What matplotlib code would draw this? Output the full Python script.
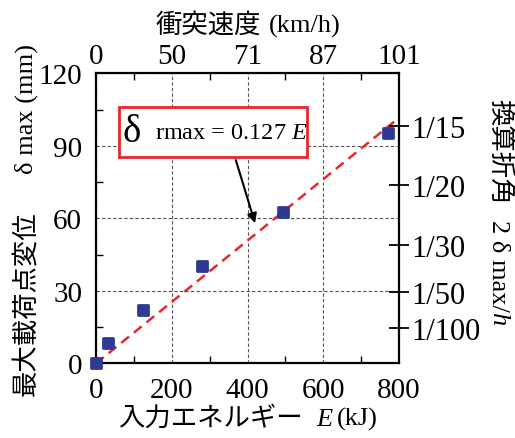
import numpy as np
import matplotlib
matplotlib.use('Agg')
import matplotlib.pyplot as plt
from matplotlib.patches import Rectangle

plt.rcParams['font.family'] = ['Liberation Serif', 'Noto Sans CJK JP']
plt.rcParams['mathtext.fontset'] = 'custom'
plt.rcParams['mathtext.rm'] = 'Liberation Serif'
plt.rcParams['mathtext.it'] = 'Liberation Serif:italic'

# data
energy_kj = [0, 32, 123, 279, 494, 772]
disp_mm = [0, 8.6, 21.9, 40.4, 62.5, 95.3]
fit_coef = 0.127
fit_range = [0, 790]

speed_ticks = [0, 200, 400, 600, 800]
speed_labels = ['0', '50', '71', '87', '101']

angle_denoms = [15, 20, 30, 50, 100]
pier_h_mm = 2950

W, H = 515, 439
fig = plt.figure(figsize=(W / 100, H / 100), dpi=100)
ax = fig.add_axes([0.1864, 0.170, 0.5884, 0.6608])

CJK = dict(family='Noto Sans CJK JP', fontsize=19)
SER = dict(family='Liberation Serif', fontsize=19)
SER_I = dict(family='Liberation Serif', fontsize=19, fontstyle='italic')


def label_run(pieces, cx, by, rotation=0):
    # pieces: (text, props) or a number = gap in px; cx = centre along the run,
    # by = baseline position across it (pixels from top-left)
    r = fig.canvas.get_renderer()
    lens = []
    for p in pieces:
        if isinstance(p, (int, float)):
            lens.append(p)
        else:
            t = fig.text(0, 0, p[0], **p[1])
            lens.append(t.get_window_extent(r).width)
            t.remove()
    total = sum(lens)
    pos = -total / 2
    for p, L in zip(pieces, lens):
        if not isinstance(p, (int, float)):
            if rotation == 0:
                x, y = cx + pos, by
            elif rotation == 90:
                x, y = by, cx - pos
            else:
                x, y = by, cx + pos
            fig.text(x / W, 1 - y / H, p[0], rotation=rotation, rotation_mode='anchor',
                     ha='left', va='baseline', **p[1])
        pos += L


ax.set_xlim(0, 800)
ax.set_ylim(0, 120)
ax.set_xticks([0, 200, 400, 600, 800])
ax.set_yticks([0, 30, 60, 90, 120])
ax.set_xticks(np.arange(100, 800, 200), minor=True)
ax.set_yticks(np.arange(15, 120, 30), minor=True)
ax.grid(True, which='major', linestyle=(0, (3, 2)), color='#555555', linewidth=0.8)
ax.tick_params(which='both', direction='in', right=True, labelsize=21)
ax.tick_params(axis='y', pad=10)
ax.tick_params(axis='x', pad=10)
ax.tick_params(which='major', length=0)
ax.tick_params(which='minor', length=5, width=1)
for s in ax.spines.values():
    s.set_linewidth(1.6)

xf = np.array(fit_range)
ax.plot(xf, fit_coef * xf, color='#e8262b', linestyle=(0, (4, 2.5)), linewidth=1.8, zorder=3)
sc = ax.scatter(energy_kj, disp_mm, marker='s', s=45, color='#2e3a92', linewidths=2,
                edgecolors='#2e3a92', zorder=4, clip_on=False)
sc.set_joinstyle('round')

# formula box
ax.add_patch(Rectangle((61.5, 85.2), 496.5, 20.7, facecolor='white', edgecolor='#e8262b',
                       linewidth=2, zorder=5))
ax.text(94, 95.8, 'δ', fontsize=28, va='center', ha='center', zorder=6)
ax.text(156, 95.3, 'rmax = 0.127 $E$', fontsize=17.5, va='center', ha='left', zorder=6)
ax.annotate('', xy=(422, 56.9), xytext=(367, 85.2),
            arrowprops=dict(arrowstyle='-|>', color='black', lw=1.5, mutation_scale=14), zorder=6)

# top axis: impact speed
axt = ax.twiny()
axt.set_xlim(ax.get_xlim())
axt.set_xticks(speed_ticks)
axt.set_xticklabels(speed_labels)
axt.set_xticks(np.arange(100, 800, 200), minor=True)
axt.tick_params(which='both', direction='in', labelsize=21, pad=3)
axt.tick_params(which='major', length=0)
axt.tick_params(which='minor', length=5, width=1)

# right axis: rotation angle
axr = ax.twinx()
axr.set_ylim(ax.get_ylim())
axr.set_yticks([pier_h_mm / (2 * n) for n in angle_denoms])
axr.set_yticklabels(['1/%d' % n for n in angle_denoms])
axr.tick_params(direction='inout', length=14, width=1.3, labelsize=22, pad=2)
for a in (axt, axr):
    for s in a.spines.values():
        s.set_visible(False)

label_run([('入力エネルギー', CJK), 13, ('E', SER_I), 5, ('(kJ)', SER)], 248, 426)
label_run([('衝突速度', CJK), 7, ('(km/h)', SER)], 248, 33)
label_run([('最大載荷点変位', CJK), 38, ('δ max (mm)', SER)], 220, 33, rotation=90)
label_run([('換算折角', CJK), 15, ('2 δ max/', SER), ('h', SER_I)], 212, 492, rotation=270)

fig.savefig('out.png', dpi=100)
